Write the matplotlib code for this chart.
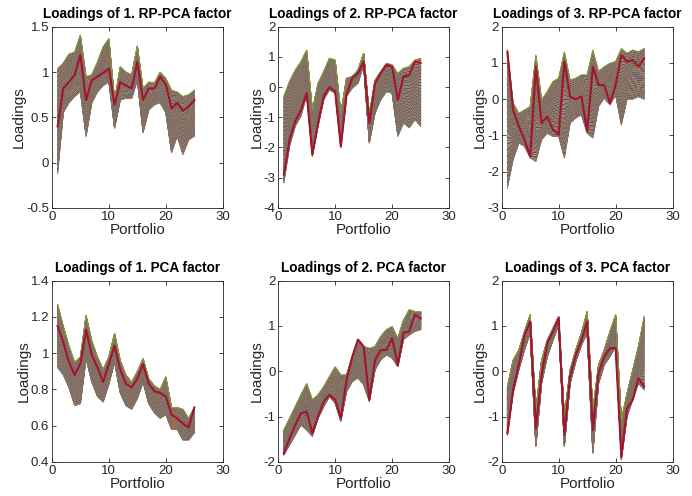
import numpy as np
import matplotlib
matplotlib.use("Agg")
import matplotlib.pyplot as plt

plt.rcParams['font.family'] = ['Liberation Sans', 'DejaVu Sans']

portfolio = np.arange(1, 26)

# envelopes (lower / upper edge of the line family) and the last (red) line
rp1_low = [-0.12, 0.55, 0.66, 0.73, 0.78, 0.29, 0.66, 0.78, 0.85, 0.89, 0.38, 0.69, 0.71,
           0.71, 0.91, 0.33, 0.58, 0.64, 0.66, 0.55, 0.11, 0.29, 0.09, 0.25, 0.29]
rp1_high = [1.04, 1.10, 1.20, 1.22, 1.41, 0.95, 0.97, 1.11, 1.28, 1.37, 0.69, 1.06, 1.00,
            0.97, 1.29, 0.82, 0.89, 0.88, 1.00, 0.93, 0.80, 0.78, 0.73, 0.75, 0.80]
rp1_last = [0.40, 0.82, 0.89, 0.97, 1.19, 0.69, 0.91, 0.95, 0.99, 1.04, 0.64, 0.89, 0.85,
            0.82, 1.11, 0.69, 0.82, 0.82, 0.95, 0.86, 0.60, 0.66, 0.57, 0.62, 0.69]

rp2_low = [-3.17, -1.96, -1.30, -0.97, -0.25, -2.29, -1.30, -0.42, -0.09, -0.20, -2.00, -0.30, -0.03,
           0.13, 0.74, -1.85, -0.86, -0.42, -0.15, -0.20, -1.63, -1.19, -1.35, -1.08, -1.30]
rp2_high = [-0.30, 0.20, 0.57, 0.85, 1.23, -0.75, 0.13, 0.52, 0.96, 0.90, -0.86, 0.30, 0.35,
            0.57, 1.12, -0.90, 0.24, 0.52, 0.79, 0.74, 0.46, 0.63, 0.68, 0.90, 0.96]
rp2_last = [-2.90, -1.74, -1.13, -0.75, -0.20, -2.23, -1.19, -0.30, 0.00, -0.15, -1.96, -0.25, 0.30,
            0.46, 0.85, -1.19, 0.13, 0.46, 0.74, 0.68, -0.42, 0.35, 0.40, 0.85, 0.80]

rp3_low = [-2.45, -1.67, -1.21, -1.30, -1.62, -1.72, -1.12, -0.94, -1.03, -1.03, -1.62, -0.66, -0.52,
           -0.43, -0.94, -1.07, -0.20, 0.03, -0.16, 0.12, -0.71, 0.00, 0.00, 0.07, 0.00]
rp3_high = [1.36, -0.10, -0.39, -0.30, -0.20, 1.22, -0.02, 0.21, 0.49, 0.58, 1.31, 0.53, 0.58,
            0.67, 0.67, 1.36, 0.76, 0.90, 0.99, 1.04, 1.40, 1.27, 1.36, 1.31, 1.40]
rp3_last = [1.31, -0.30, -0.75, -1.12, -1.58, 0.90, -0.66, -0.48, -0.84, -0.98, 1.04, 0.07, 0.00,
            0.07, -0.89, 0.90, 0.39, 0.39, -0.11, 0.39, 1.22, 1.04, 1.08, 0.90, 1.13]

pca1_low = [0.92, 0.88, 0.81, 0.71, 0.72, 0.97, 0.84, 0.76, 0.73, 0.83, 0.95, 0.78, 0.71,
            0.69, 0.75, 0.84, 0.72, 0.67, 0.64, 0.66, 0.58, 0.58, 0.52, 0.52, 0.56]
pca1_high = [1.27, 1.15, 1.04, 0.95, 0.98, 1.21, 1.07, 0.98, 0.91, 0.98, 1.11, 0.96, 0.88,
             0.84, 0.90, 0.97, 0.86, 0.82, 0.80, 0.87, 0.70, 0.70, 0.69, 0.64, 0.70]
pca1_last = [1.15, 1.06, 0.95, 0.88, 0.94, 1.13, 0.99, 0.92, 0.84, 0.94, 1.04, 0.91, 0.83,
             0.81, 0.86, 0.94, 0.83, 0.79, 0.78, 0.76, 0.66, 0.64, 0.61, 0.59, 0.70]

pca2_low = [-1.85, -1.63, -1.41, -1.19, -1.30, -1.44, -1.04, -0.78, -0.56, -0.71, -1.11, -0.45, -0.23,
            -0.15, -0.30, -0.67, 0.03, 0.25, 0.36, 0.29, 0.10, 0.70, 0.80, 0.88, 0.92]
pca2_high = [-1.30, -1.04, -0.78, -0.52, -0.27, -0.63, -0.52, -0.34, -0.12, 0.10, -0.08, -0.08, 0.32,
             0.70, 0.55, 0.51, 0.55, 0.77, 0.92, 0.99, 0.73, 1.13, 1.36, 1.32, 1.32]
pca2_last = [-1.81, -1.48, -1.19, -0.93, -0.89, -1.37, -1.00, -0.67, -0.52, -0.63, -1.04, -0.19, 0.32,
             0.70, 0.55, -0.63, 0.25, 0.47, 0.47, 0.73, 0.14, 0.85, 0.88, 1.25, 1.17]

pca3_low = [-1.41, -0.49, 0.03, 0.47, 0.84, -1.66, -0.27, 0.32, 0.69, 1.02, -1.66, -0.27, 0.21,
            0.58, 0.84, -1.81, -0.27, 0.14, 0.32, 0.55, -1.96, -1.00, -0.63, -0.27, -0.41]
pca3_high = [-0.34, 0.25, 0.47, 0.88, 1.25, -0.85, 0.25, 0.69, 0.95, 1.21, -1.00, 0.03, 0.47,
             0.85, 1.32, -0.85, 0.14, 0.47, 0.88, 1.25, -1.07, -0.49, 0.03, 0.55, 1.21]
pca3_last = [-1.37, -0.41, 0.14, 0.80, 1.10, -1.26, -0.08, 0.62, 0.88, 1.17, -1.41, -0.12, 0.36,
             0.69, 1.10, -1.30, -0.04, 0.32, 0.51, 0.51, -1.89, -0.82, -0.63, -0.15, -0.34]

titles = ["Loadings of 1. RP-PCA factor", "Loadings of 2. RP-PCA factor", "Loadings of 3. RP-PCA factor",
          "Loadings of 1. PCA factor", "Loadings of 2. PCA factor", "Loadings of 3. PCA factor"]
ylims = [(-0.5, 1.5), (-4, 2), (-3, 2), (0.4, 1.4), (-2, 2), (-2, 2)]
yticks = [[-0.5, 0, 0.5, 1, 1.5], [-4, -3, -2, -1, 0, 1, 2], [-3, -2, -1, 0, 1, 2],
          [0.4, 0.6, 0.8, 1, 1.2, 1.4], [-2, -1, 0, 1, 2], [-2, -1, 0, 1, 2]]
ytick_labels = [["-0.5", "0", "0.5", "1", "1.5"], ["-4", "-3", "-2", "-1", "0", "1", "2"],
                ["-3", "-2", "-1", "0", "1", "2"], ["0.4", "0.6", "0.8", "1", "1.2", "1.4"],
                ["-2", "-1", "0", "1", "2"], ["-2", "-1", "0", "1", "2"]]
panels = [(rp1_low, rp1_high, rp1_last), (rp2_low, rp2_high, rp2_last), (rp3_low, rp3_high, rp3_last),
          (pca1_low, pca1_high, pca1_last), (pca2_low, pca2_high, pca2_last), (pca3_low, pca3_high, pca3_last)]

matlab_colors = [(0, 0.447, 0.741), (0.85, 0.325, 0.098), (0.929, 0.694, 0.125),
                 (0.494, 0.184, 0.556), (0.466, 0.674, 0.188), (0.301, 0.745, 0.933),
                 (0.635, 0.078, 0.184)]
n_lines = 152

fig = plt.figure(figsize=(6.92, 4.96), dpi=100)
lefts = [0.075, 0.402, 0.725]
bottoms = [0.581, 0.069]
w, h = 0.247, 0.365
dark = (0.15, 0.15, 0.15)

for i, (low, high, last) in enumerate(panels):
    ax = fig.add_axes([lefts[i % 3], bottoms[i // 3], w, h])
    low = np.array(low)
    high = np.array(high)
    for k in range(n_lines):
        t = k / (n_lines - 1)
        ax.plot(portfolio, low + t * (high - low), color=matlab_colors[k % 7], lw=0.7)
    ax.plot(portfolio, last, color=matlab_colors[6], lw=1.5)
    ax.set_xlim(0, 30)
    ax.set_ylim(*ylims[i])
    ax.set_xticks([0, 10, 20, 30])
    ax.set_yticks(yticks[i])
    ax.set_yticklabels(ytick_labels[i])
    ax.tick_params(direction='in', length=3, width=0.6, top=True, right=True,
                   labelsize=9.5, colors=dark, pad=2)
    for s in ax.spines.values():
        s.set_linewidth(0.6)
        s.set_color(dark)
    ax.set_xlabel("Portfolio", fontsize=11, color=dark, labelpad=0)
    ax.set_ylabel("Loadings", fontsize=11, color=dark, labelpad=0)
    ax.set_title(titles[i], fontsize=9.8, fontweight='bold', pad=6)

fig.savefig("out.png", dpi=100)
